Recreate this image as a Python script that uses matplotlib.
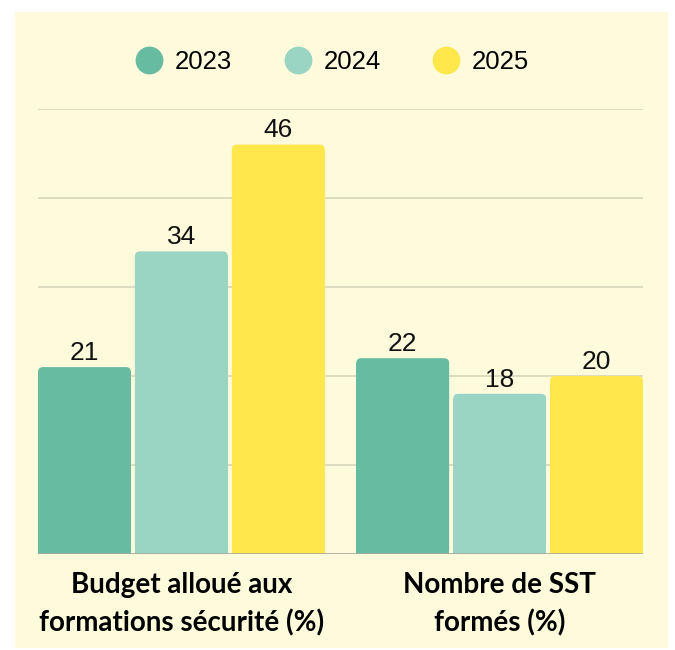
import matplotlib
matplotlib.use("Agg")
import matplotlib.pyplot as plt
from matplotlib.patches import FancyBboxPatch, Rectangle
from matplotlib.lines import Line2D
import numpy as np

categories = ["Budget alloué aux\nformations sécurité (%)", "Nombre de SST\nformés (%)"]
series_names = ["2023", "2024", "2025"]
values_2023 = [21, 22]
values_2024 = [34, 18]
values_2025 = [46, 20]
series_values = [values_2023, values_2024, values_2025]
colors = ["#66BBA0", "#9AD4C2", "#FFE74C"]
bg = "#FEFADC"

fig = plt.figure(figsize=(6.75, 6.5), dpi=100)
fig.patch.set_facecolor("white")
fig.patches.append(Rectangle((15/675, 2/650), (668-15)/675, (638-2)/650,
                             transform=fig.transFigure, facecolor=bg,
                             edgecolor="none", zorder=-10))

ax = fig.add_axes([38/675, 96/650, (643-38)/675, (541-96)/650])
ax.set_facecolor(bg)
ax.patch.set_alpha(0)

x = np.arange(len(categories))
step = 97/318.5
width = 93/318.5
ax.set_xlim(-0.4505, 1.4505)
ax.set_ylim(0, 50)

px_x = 318.5
px_y = 445/50.0
r_px = 5
for i, (name, vals, col) in enumerate(zip(series_names, series_values, colors)):
    bars = ax.bar(x + (i-1)*step, vals, width, color=col, zorder=3)
    for b, v in zip(bars, vals):
        bx, by, bw, bh = b.get_x(), b.get_y(), b.get_width(), b.get_height()
        b.set_visible(False)
        rx = r_px/px_x
        ry = r_px/px_y
        p = FancyBboxPatch((bx, by), bw, bh,
                           boxstyle=f"round,pad=0,rounding_size={rx}",
                           mutation_aspect=ry/rx,
                           facecolor=col, edgecolor="none", zorder=3)
        ax.add_patch(p)
        ax.add_patch(Rectangle((bx, by), bw, bh-ry, facecolor=col,
                               edgecolor="none", zorder=3))
        ax.annotate(f"{v}", (bx+bw/2, bh), xytext=(0, 5.2), textcoords="offset points",
                    ha="center", va="baseline", fontsize=19, family="Liberation Sans",
                    color="#111111")

for yv in [10, 20, 30, 40, 50]:
    ax.axhline(yv, color="#D9D5BC", lw=1.2, zorder=1)
ax.axhline(0, color="#A8A69A", lw=1.2, zorder=4)

for s in ax.spines.values():
    s.set_visible(False)
ax.set_yticks([])
ax.set_xticks(x)
ax.set_xticklabels(categories, fontsize=20, fontweight="bold", family="Lato",
                   linespacing=1.5)
ax.tick_params(axis="x", length=0, pad=13)

handles = [Line2D([], [], marker="o", linestyle="none", markersize=20,
                  markerfacecolor=c, markeredgecolor="none") for c in colors]
fig.legend(handles, series_names, loc="center", bbox_to_anchor=(333/675, 1-62/650),
           ncol=3, frameon=False, prop={"family": "Liberation Sans", "size": 18.5},
           handletextpad=0.5, columnspacing=2.05, handlelength=1.0)

fig.savefig("out.png", dpi=100)
